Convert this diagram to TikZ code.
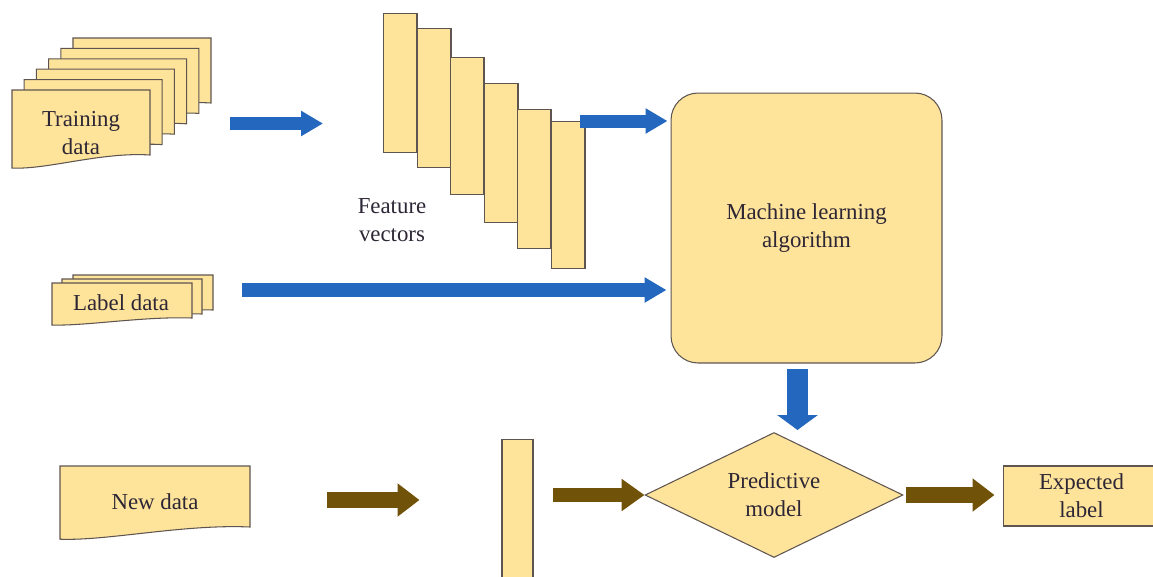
\documentclass[tikz,border=0pt]{standalone}
\usepackage{fontspec}
\setmainfont{Liberation Serif}
\usetikzlibrary{
    positioning,
    arrows.meta,
    shapes.geometric
}

\definecolor{pagefill}{RGB}{254,227,155}
\definecolor{pageline}{RGB}{95,85,80}
\definecolor{flowblue}{RGB}{35,104,190}
\definecolor{flowbrown}{RGB}{112,82,8}
\definecolor{inktext}{RGB}{45,38,52}

% document page with a wavy bottom: left, top, width, height
\newcommand{\docpage}[4]{%
  \pgfmathsetmacro\docright{#1+#3}
  \pgfmathsetmacro\docbottom{#2+#4}
  \filldraw[pagebox] (#1,#2) -- (\docright,#2) -- (\docright,\docbottom)
    .. controls +(-0.35*#3,-0.05*#4) and +(0.25*#3,0.03*#4) .. (#1,\docbottom+0.2*#4) -- cycle;
}

\begin{document}
\begin{tikzpicture}[x=0.02cm,y=-0.02cm,
    pagebox/.style={fill=pagefill,draw=pageline,line width=0.6pt},
    boxtext/.style={text=inktext,font=\fontsize{13}{16}\selectfont,align=center},
    vecbox/.style={pagebox,rectangle,anchor=north west,minimum width=0.67cm,inner sep=0pt},
    blueflow/.style={draw=flowblue,line width=0.26cm,-{Triangle[length=0.44cm,width=0.48cm]}},
    brownflow/.style={draw=flowbrown,line width=0.32cm,-{Triangle[length=0.44cm,width=0.64cm]}}]
            \useasboundingbox (0,0) rectangle (1153,576);

            % Training data stack
            \foreach \i in {5,...,0}
              \docpage{12+12.2*\i}{90-10.4*\i}{138}{65};
            \node[boxtext] (train) at (81,133) {Training\\data};
            \coordinate (trainout) at (212,123.5);

            % Label data stack
            \foreach \x/\y in {73/275,62/279,52/283}
              \docpage{\x}{\y}{140}{35};
            \node[boxtext] (label) at (121,303) {Label data};
            \coordinate (labelout) at (213,290);

            % New data
            \docpage{60}{466}{190}{61};
            \node[boxtext] (newdata) at (155,502) {New data};
            \coordinate (newout) at (250,500);

            % Feature vectors
            \foreach \i/\x/\t/\h in {1/383/13/139,2/417/28/139,3/450/57/137,
                                     4/484/83/139,5/517/109/139,6/551/121/147}
              \node[vecbox,minimum height=\h*0.02cm] (fv\i) at (\x,\t) {};
            \node[boxtext] (fvlabel) at (392,220) {Feature\\vectors};

            % Learning and prediction
            \node[pagebox,boxtext,rounded corners=0.54cm,minimum width=5.42cm,
                  minimum height=5.4cm] (ml) at (806.5,228) {Machine learning\\algorithm};
            \node[pagebox,minimum width=0.62cm,minimum height=3.1cm,inner sep=0pt]
                  (vec) at (517.5,517) {};
            \node[pagebox,boxtext,diamond,aspect=2,inner sep=0pt,minimum width=5.16cm,
                  minimum height=2.5cm] (pred) at (774,495) {Predictive\\model};
            \node[pagebox,boxtext,minimum width=3.14cm,minimum height=1.2cm]
                  (expected) at (1081.5,496) {Expected\\label};

            % Blue arrows
            \draw[blueflow,shorten <=0.36cm,shorten >=1.2cm] (trainout) -- (fv1.west |- trainout);
            \draw[blueflow,shorten >=0.06cm] ([xshift=-0.12cm]fv6.north east) -- (ml.west |- fv6.north east);
            \draw[blueflow,line width=0.28cm,shorten <=0.58cm,shorten >=0.08cm] (labelout) -- (ml.west |- labelout);
            \draw[blueflow,line width=0.42cm,-{Triangle[length=0.3cm,width=0.8cm]},
                  shorten <=0.1cm,shorten >=0.04cm]
                  ([xshift=-0.18cm]ml.south) -- ([xshift=-0.18cm]ml.south |- pred.north);

            % Brown arrows
            \draw[brownflow,shorten <=1.54cm,shorten >=1.64cm] (newout) -- (vec.west |- newout);
            \draw[brownflow,line width=0.28cm,-{Triangle[length=0.46cm,width=0.62cm]},
                  shorten <=0.38cm] (vec.east |- pred.west) -- (pred.west);
            \draw[brownflow,shorten <=0.04cm,shorten >=0.16cm] (pred.east) -- (expected.west |- pred.east);
          \end{tikzpicture}
\end{document}
